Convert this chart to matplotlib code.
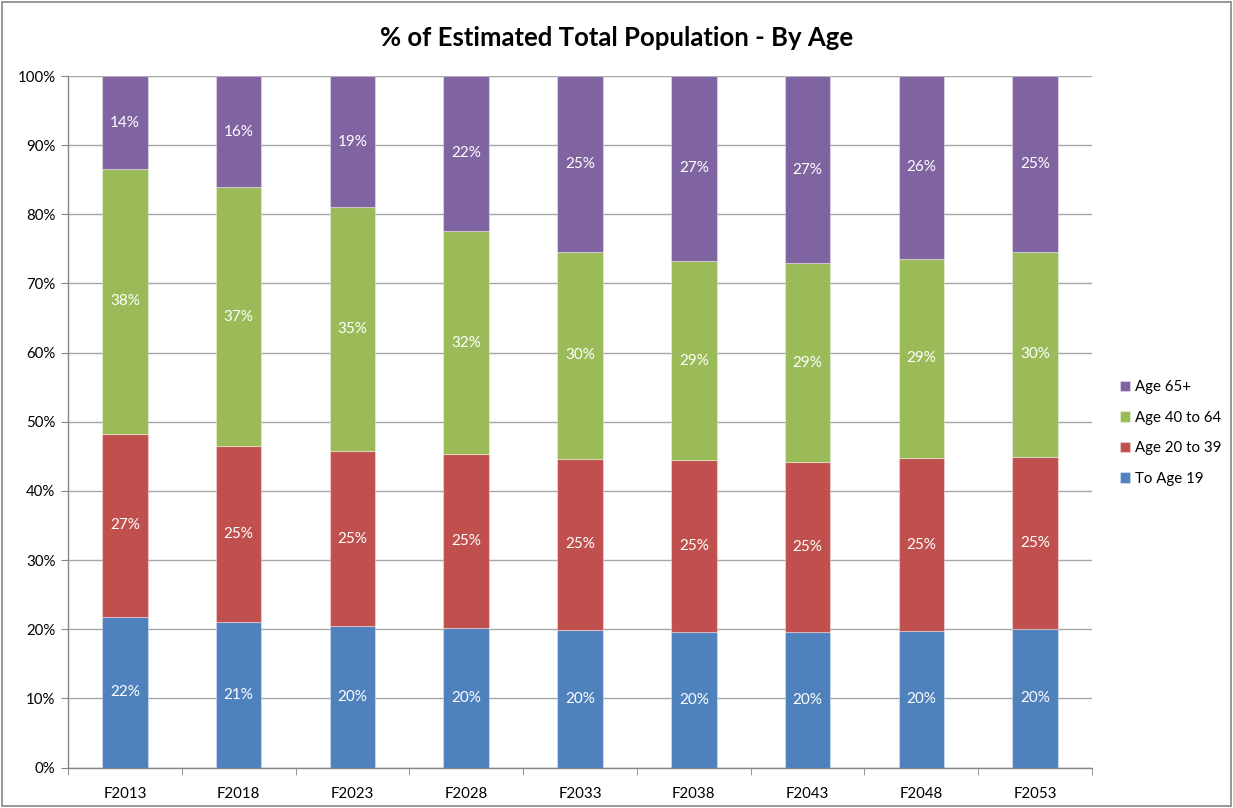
import matplotlib
matplotlib.use("Agg")
import matplotlib.pyplot as plt
import numpy as np
from matplotlib.patches import Rectangle
from matplotlib.ticker import FixedLocator, PercentFormatter

plt.rcParams['font.family'] = ['Lato', 'DejaVu Sans']

categories = ["F2013", "F2018", "F2023", "F2028", "F2033", "F2038", "F2043", "F2048", "F2053"]
to_age_19 = [21.7, 21.1, 20.4, 20.2, 19.9, 19.6, 19.6, 19.7, 20.0]
age_20_39 = [26.6, 25.4, 25.4, 25.1, 24.7, 24.8, 24.6, 25.0, 24.9]
age_40_64 = [38.2, 37.4, 35.2, 32.3, 30.0, 28.9, 28.7, 28.9, 29.7]
age_65p   = [13.5, 16.1, 19.0, 22.4, 25.4, 26.7, 27.1, 26.4, 25.4]

series = [("To Age 19", to_age_19, "#4F81BD"),
          ("Age 20 to 39", age_20_39, "#C0504D"),
          ("Age 40 to 64", age_40_64, "#9BBB59"),
          ("Age 65+", age_65p, "#8064A2")]

fig = plt.figure(figsize=(12.33, 8.08), dpi=100)
ax = fig.add_axes([68/1233, 1-767.5/808, (1092-68)/1233, (767.5-76)/808])

x = np.arange(len(categories))
bottom = np.zeros(len(categories))
handles = []
for name, vals, col in series:
    v = np.array(vals)
    b = ax.bar(x, v, 0.4, bottom=bottom, color=col, edgecolor=(1, 1, 1, 0.35),
               linewidth=0.8, label=name, zorder=3)
    handles.append(b)
    for xi, vi, bi in zip(x, v, bottom):
        ax.text(xi, bi + vi/2, f"{round(vi):.0f}%", ha="center", va="center",
                color="white", fontsize=11, zorder=4)
    bottom += v

ax.set_xlim(-0.5, len(categories)-0.5)
ax.set_ylim(0, 100)
ax.yaxis.set_major_locator(FixedLocator(np.arange(0, 101, 10)))
ax.yaxis.set_major_formatter(PercentFormatter(decimals=0))
ax.set_xticks(x)
ax.set_xticklabels(categories)
ax.xaxis.set_minor_locator(FixedLocator(np.arange(-0.5, len(categories), 1)))
ax.tick_params(axis="x", which="major", length=0, pad=14, labelsize=10.8)
ax.tick_params(axis="x", which="minor", length=5, color="#868686")
ax.tick_params(axis="y", which="major", length=5, color="#868686", labelsize=10.8, pad=4)
ax.grid(axis="y", color="#A6A6A6", linewidth=1.0, zorder=0)
for s in ["top", "right"]:
    ax.spines[s].set_visible(False)
for s in ["left", "bottom"]:
    ax.spines[s].set_color("#868686")
    ax.spines[s].set_linewidth(1.0)

leg = fig.legend(handles[::-1], [s[0] for s in series][::-1],
                 loc="center left", bbox_to_anchor=(1106/1233, 1-433/808),
                 frameon=False, fontsize=10.8, handlelength=0.7, handleheight=0.7,
                 labelspacing=1.1, handletextpad=0.35)

fig.text(0.5, 1-38/808, "% of Estimated Total Population - By Age", ha="center", va="center",
         fontsize=18.5, fontweight="bold")

fig.patches.append(Rectangle((2/1233, 2/808), 1-4/1233, 1-4/808, transform=fig.transFigure,
                             fill=False, edgecolor="#868686", linewidth=1.2))

fig.savefig("out.png", dpi=100)
